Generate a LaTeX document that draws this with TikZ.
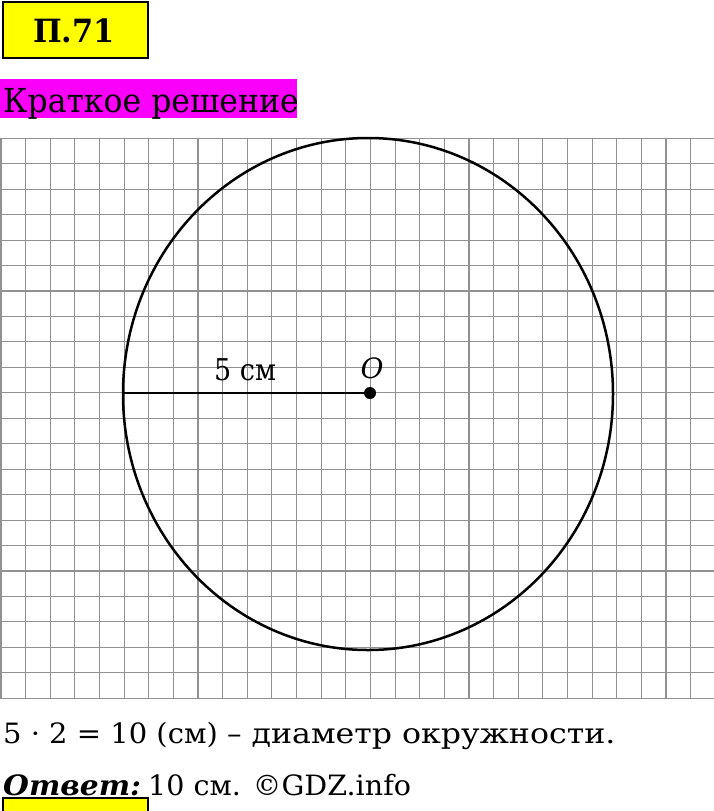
\documentclass[tikz,border=0pt]{standalone}
\usepackage{fontspec}
\setmainfont{DejaVu Serif}
\definecolor{titleyellow}{RGB}{255,255,0}
\definecolor{headmagenta}{RGB}{250,0,250}
\definecolor{gridgray}{RGB}{145,145,145}
\begin{document}
\begin{tikzpicture}[x=1pt,y=-1pt,
  gridline/.style={draw=gridgray,line width=1.1pt},
  titlebox/.style={fill=titleyellow,draw=black,line width=2.5pt},
  headbox/.style={fill=headmagenta},
  shape line/.style={draw=black,line width=2.5pt},
  txt/.style={inner sep=0pt,anchor=base west}]
\useasboundingbox (0,0) rectangle (714,811);
\clip (0,0) rectangle (714,811);
\fill[white] (0,0) rectangle (714,811);
% grid
\foreach \i in {0,...,29} {
  \draw[gridline] ({1+24.63*\i},138.3) -- ({1+24.63*\i},698.3);
}
\foreach \j in {0,...,22} {
  \draw[gridline] (0,{138.3+25.45*\j}) -- (714,{138.3+25.45*\j});
}
% title
\draw[titlebox] (3,2) rectangle (148,58);
\node[inner sep=0pt,anchor=base] (title) at (74,42) {\scalebox{0.95}[1]{\fontsize{32}{32}\selectfont\bfseries П.71}};
\fill[headbox] (0,79) rectangle (297,118);
\node[txt] (head) at (3,112) {\scalebox{0.955}[1]{\fontsize{33}{33}\selectfont Краткое решение}};
% circle
\draw[shape line] (368,394) ellipse [x radius=245, y radius=256];
\coordinate (L) at (123,393);
\node[circle,fill=black,inner sep=0pt,minimum size=12pt] (O) at (370,393) {};
\draw[shape line] (L) -- (O.center);
\node[txt] (r) at (214,380) {\scalebox{0.9}[1]{\fontsize{30}{30}\selectfont 5 см}};
\node[inner sep=0pt,anchor=base] (Olab) at (372,378) {\fontsize{28}{28}\selectfont\itshape O};
% bottom
\node[txt] (l1) at (3,743) {\fontsize{28}{28}\selectfont\scalebox{1.035}[1]{5 · 2 = 10 (см) –}\hspace{10pt}\scalebox{1.13}[1]{диаметр окружности.}};
\node[txt] (l2) at (3,795) {\scalebox{1.06}[1]{\fontsize{28}{28}\selectfont\bfseries\itshape Ответ:}};
\node[txt] (l3) at (148,795) {\scalebox{1.02}[1]{\fontsize{28}{28}\selectfont 10 см. ©GDZ.info}};
\draw[titlebox] (3,798) rectangle (148,850);
\end{tikzpicture}
\end{document}
